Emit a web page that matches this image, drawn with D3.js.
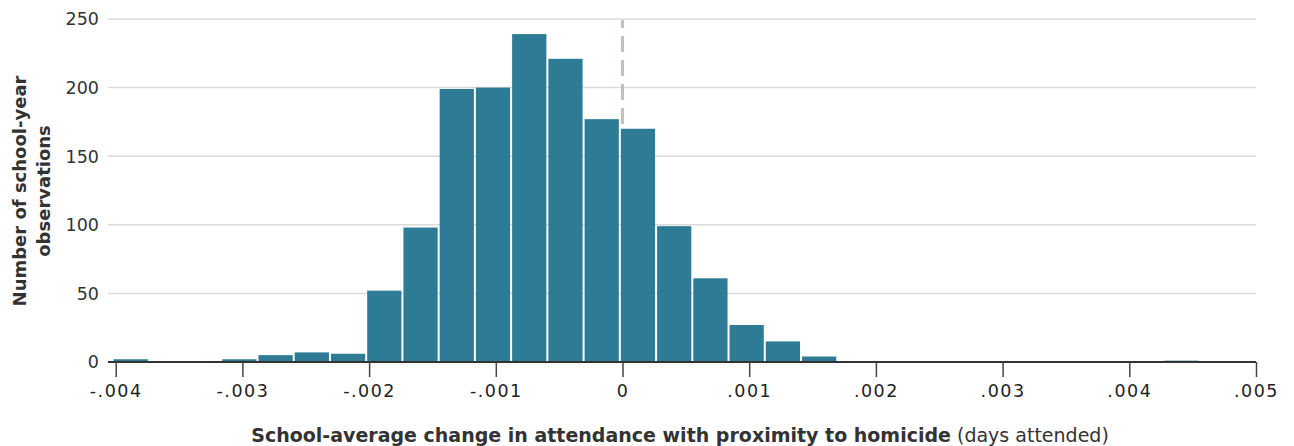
<!DOCTYPE html>
<html>
<head>
<meta charset="utf-8">
<script src="https://cdn.jsdelivr.net/npm/d3@7"></script>
<style>
  body { margin: 0; background: #fff; }
  svg text { font-family: "DejaVu Sans", sans-serif; }
</style>
</head>
<body>
<div id="chart"></div>
<script>
// histogram bins (lower edge of each bin, days attended) and counts
const binStarts = [-0.004025, -0.003167, -0.002881, -0.002595, -0.002309, -0.002023, -0.001737,
                   -0.001451, -0.001165, -0.000879, -0.000593, -0.000307, -0.000021, 0.000265,
                   0.000551, 0.000837, 0.001123, 0.001409, 0.004269];
const counts = [2, 2, 5, 7, 6, 52, 98, 199, 200, 239, 221, 177, 170, 99, 61, 27, 15, 4, 1];
const binWidth = 0.000286;
const xTicks = [-0.004, -0.003, -0.002, -0.001, 0, 0.001, 0.002, 0.003, 0.004, 0.005];
const xTickLabels = ["-.004", "-.003", "-.002", "-.001", "0", ".001", ".002", ".003", ".004", ".005"];
const yTicks = [0, 50, 100, 150, 200, 250];

const width = 1294;
const height = 446;
const margin = {top: 19, right: 38, bottom: 84, left: 108};

const bins = binStarts.map((s, i) => ({x0: s, x1: s + binWidth, n: counts[i]}));

const x = d3.scaleLinear()
    .domain([-0.004, 0.005])
    .range([115.7, 1256]);

const y = d3.scaleLinear()
    .domain([0, 250])
    .range([height - margin.bottom, margin.top]);

const svg = d3.select('#chart').append('svg')
    .attr('width', width)
    .attr('height', height);

// gridlines
svg.append('g')
    .selectAll('line')
    .data(yTicks.filter(d => d > 0))
    .join('line')
    .attr('x1', margin.left)
    .attr('x2', width - margin.right)
    .attr('y1', d => y(d))
    .attr('y2', d => y(d))
    .attr('stroke', '#dadada')
    .attr('stroke-width', 1.5);

// y tick labels
svg.append('g')
    .selectAll('text')
    .data(yTicks)
    .join('text')
    .attr('x', 99)
    .attr('y', d => y(d))
    .attr('dy', '0.36em')
    .attr('text-anchor', 'end')
    .style('font-size', '17.5px')
    .attr('fill', '#333')
    .text(d => d);

// dashed zero line (behind the bars)
svg.append('line')
    .attr('x1', x(0))
    .attr('x2', x(0))
    .attr('y1', 20)
    .attr('y2', y(0))
    .attr('stroke', '#c6beb8')
    .attr('stroke-width', 3)
    .attr('stroke-dasharray', '16,8')
    .attr('stroke-dashoffset', 8);

// bars
svg.append('g')
    .selectAll('rect')
    .data(bins)
    .join('rect')
    .attr('x', d => x(d.x0) + 1)
    .attr('width', d => x(d.x1) - x(d.x0) - 2)
    .attr('y', d => y(d.n))
    .attr('height', d => y(0) - y(d.n))
    .attr('fill', '#2e7b96');

// x axis
const xAxis = d3.axisBottom(x)
    .tickValues(xTicks)
    .tickFormat((d, i) => xTickLabels[i])
    .tickSize(15)
    .tickPadding(8);

const gx = svg.append('g')
    .attr('transform', `translate(0,${y(0)})`)
    .call(xAxis);
gx.select('.domain')
    .attr('d', `M${margin.left},0H${width - margin.right}`)
    .attr('stroke', '#333')
    .attr('stroke-width', 2);
gx.selectAll('.tick line')
    .attr('stroke', '#444')
    .attr('stroke-width', 1.5);
gx.selectAll('.tick text')
    .style('font-size', '17.5px')
    .style('letter-spacing', '1.5px')
    .attr('fill', '#222');

// y title
const yTitle = svg.append('text')
    .attr('transform', 'translate(26,191) rotate(-90)')
    .attr('text-anchor', 'middle')
    .style('font-size', '18px')
    .attr('font-weight', 'bold')
    .attr('fill', '#333');
yTitle.append('tspan').attr('x', 0).attr('y', 0).text('Number of school-year');
yTitle.append('tspan').attr('x', 0).attr('y', 24).text('observations');

// x title
const xTitle = svg.append('text')
    .attr('x', 680)
    .attr('y', 442)
    .attr('text-anchor', 'middle')
    .style('font-size', '19px')
    .attr('fill', '#333');
xTitle.append('tspan').attr('font-weight', 'bold')
    .text('School-average change in attendance with proximity to homicide');
xTitle.append('tspan').text(' (days attended)');
</script>
</body>
</html>
